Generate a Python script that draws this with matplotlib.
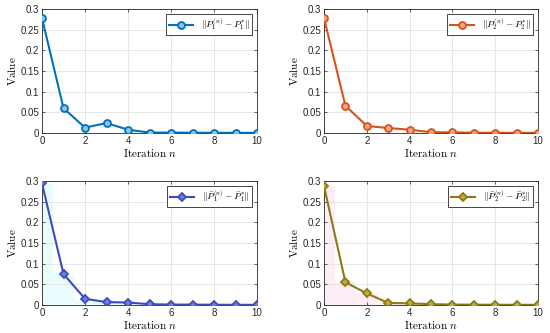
import numpy as np
import matplotlib.pyplot as plt

plt.rcParams['font.family'] = ['Liberation Sans', 'DejaVu Sans']
plt.rcParams['mathtext.fontset'] = 'cm'

# data
n = np.arange(0, 11)
err_p1 = [0.278, 0.060, 0.013, 0.024, 0.008, 0.001, 0.001, 0.0006, 0.0005, 0.0004, 0.0003]
err_p2 = [0.278, 0.066, 0.017, 0.012, 0.008, 0.002, 0.0015, 0.0006, 0.0005, 0.0004, 0.0003]
err_pb1 = [0.294, 0.075, 0.015, 0.007, 0.006, 0.002, 0.001, 0.001, 0.0006, 0.0005, 0.0004]
err_pb2 = [0.288, 0.055, 0.028, 0.005, 0.004, 0.002, 0.001, 0.0008, 0.0006, 0.0005, 0.0004]

labels = [r'$\|P_1^{(n)}-P_1^{*}\|$', r'$\|P_2^{(n)}-P_2^{*}\|$',
          r'$\|\bar{P}_1^{(n)}-\bar{P}_1^{*}\|$', r'$\|\bar{P}_2^{(n)}-\bar{P}_2^{*}\|$']
series = [err_p1, err_p2, err_pb1, err_pb2]
colors = ['#0072BD', '#D95319', '#3B4CC0', '#8C7A12']
faces = ['#8FC3E8', '#F2A580', '#6F7FD8', '#C9A640']
markers = ['o', 'o', 'D', 'D']
shades = [None, None, '#eafbfd', '#fdedf7']

fig = plt.figure(figsize=(5.5, 3.33), dpi=100)
boxes = [(42, 9, 215, 124), (324, 9, 214, 124), (42, 181, 215, 124), (324, 181, 214, 124)]
W, H = 550, 333

for i in range(4):
    x0, y0, w, h = boxes[i]
    ax = fig.add_axes([x0 / W, 1 - (y0 + h) / H, w / W, h / H])
    if shades[i]:
        ax.fill_between(n, series[i], step='mid', color=shades[i], lw=0, zorder=0)
    ax.plot(n, series[i], color=colors[i], lw=1.5, marker=markers[i],
            ms=5 if markers[i] == 'o' else 4.5, mfc=faces[i], mec=colors[i], mew=1.3,
            label=labels[i], zorder=3)
    ax.set_xlim(0, 10)
    ax.set_ylim(0, 0.3)
    ax.set_xticks([0, 2, 4, 6, 8, 10])
    ax.set_yticks([0, 0.05, 0.1, 0.15, 0.2, 0.25, 0.3])
    ax.set_yticklabels(['0', '0.05', '0.1', '0.15', '0.2', '0.25', '0.3'])
    ax.grid(True, color='#e3e3e3', lw=0.6)
    ax.set_axisbelow(True)
    ax.tick_params(direction='in', length=2.5, width=0.5, labelsize=7, colors='#262626',
                   top=True, right=True, pad=2)
    for s in ax.spines.values():
        s.set_color('#262626')
        s.set_linewidth(0.6)
    ax.set_xlabel(r'$\mathrm{Iteration}\ n$', fontsize=8, labelpad=1)
    ax.set_ylabel(r'$\mathrm{Value}$', fontsize=8, labelpad=2)
    leg = ax.legend(loc='upper right', fontsize=6.8, handlelength=2.6, borderpad=0.3,
                    fancybox=False, framealpha=1, edgecolor='#262626')
    leg.get_frame().set_linewidth(0.6)

fig.savefig('out.png', dpi=100)
